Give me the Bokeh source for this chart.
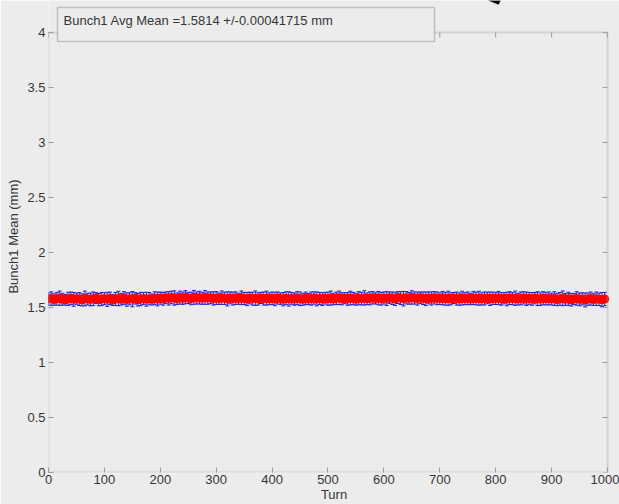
import math

from bokeh.plotting import figure
from bokeh.models import (Range1d, FixedTicker, ColumnDataSource,
                          BoxAnnotation, Label, PolyAnnotation)
from bokeh.embed import file_html
from bokeh.resources import INLINE

# Turn-by-turn bunch 1 centroid (mm), sampled every 5 turns
turns = list(range(0, 1000, 5))

bunch1_mean = [
    1.576, 1.581, 1.572, 1.579, 1.584, 1.575, 1.570, 1.578, 1.583, 1.574,
    1.580, 1.577, 1.569, 1.582, 1.576, 1.573, 1.579, 1.585, 1.571, 1.577,
    1.580, 1.574, 1.583, 1.568, 1.577, 1.581, 1.575, 1.586, 1.572, 1.579,
    1.576, 1.583, 1.570, 1.578, 1.582, 1.575, 1.580, 1.573, 1.584, 1.577,
    1.585, 1.579, 1.588, 1.583, 1.591, 1.586, 1.580, 1.590, 1.584, 1.593,
    1.587, 1.582, 1.592, 1.586, 1.589, 1.583, 1.591, 1.585, 1.588, 1.582,
    1.586, 1.580, 1.589, 1.583, 1.578, 1.587, 1.581, 1.585, 1.579, 1.588,
    1.582, 1.577, 1.586, 1.580, 1.584, 1.578, 1.587, 1.581, 1.585, 1.579,
    1.583, 1.577, 1.586, 1.580, 1.575, 1.584, 1.578, 1.582, 1.576, 1.585,
    1.579, 1.574, 1.583, 1.577, 1.581, 1.586, 1.578, 1.582, 1.576, 1.584,
    1.580, 1.585, 1.577, 1.583, 1.588, 1.579, 1.584, 1.578, 1.586, 1.581,
    1.575, 1.584, 1.580, 1.587, 1.579, 1.583, 1.588, 1.582, 1.585, 1.579,
    1.586, 1.581, 1.589, 1.584, 1.578, 1.590, 1.585, 1.580, 1.588, 1.583,
    1.591, 1.586, 1.581, 1.589, 1.584, 1.579, 1.587, 1.582, 1.588, 1.583,
    1.580, 1.585, 1.578, 1.584, 1.579, 1.586, 1.581, 1.576, 1.585, 1.580,
    1.583, 1.577, 1.586, 1.581, 1.584, 1.578, 1.582, 1.587, 1.579, 1.584,
    1.581, 1.586, 1.578, 1.583, 1.577, 1.585, 1.580, 1.584, 1.576, 1.582,
    1.587, 1.579, 1.583, 1.578, 1.585, 1.580, 1.576, 1.584, 1.579, 1.582,
    1.576, 1.581, 1.572, 1.578, 1.583, 1.574, 1.579, 1.570, 1.577, 1.582,
    1.573, 1.578, 1.568, 1.576, 1.581, 1.572, 1.579, 1.574, 1.571, 1.577,
]

# One-sigma spread of the centroid at each sampled turn (mm)
bunch1_err = [
    0.056, 0.061, 0.052, 0.058, 0.065, 0.054, 0.049, 0.060, 0.057, 0.063,
    0.051, 0.059, 0.055, 0.067, 0.053, 0.058, 0.062, 0.050, 0.056, 0.060,
    0.054, 0.064, 0.057, 0.051, 0.059, 0.066, 0.053, 0.058, 0.061, 0.055,
    0.069, 0.052, 0.057, 0.060, 0.054, 0.063, 0.056, 0.050, 0.059, 0.062,
    0.055, 0.058, 0.053, 0.061, 0.057, 0.065, 0.052, 0.059, 0.056, 0.060,
    0.051, 0.057, 0.063, 0.055, 0.058, 0.054, 0.062, 0.056, 0.053, 0.060,
    0.058, 0.052, 0.061, 0.056, 0.064, 0.054, 0.059, 0.057, 0.050, 0.062,
    0.055, 0.060, 0.053, 0.058, 0.066, 0.056, 0.051, 0.059, 0.063, 0.054,
    0.057, 0.061, 0.055, 0.052, 0.060, 0.058, 0.065, 0.053, 0.056, 0.059,
    0.062, 0.054, 0.057, 0.051, 0.060, 0.056, 0.063, 0.055, 0.058, 0.053,
    0.059, 0.064, 0.052, 0.057, 0.061, 0.055, 0.050, 0.058, 0.062, 0.056,
    0.054, 0.060, 0.057, 0.065, 0.053, 0.059, 0.056, 0.051, 0.061, 0.058,
    0.055, 0.063, 0.052, 0.057, 0.060, 0.054, 0.058, 0.066, 0.056, 0.053,
    0.061, 0.055, 0.059, 0.052, 0.057, 0.062, 0.054, 0.060, 0.056, 0.058,
    0.053, 0.061, 0.057, 0.064, 0.055, 0.050, 0.059, 0.056, 0.062, 0.054,
    0.058, 0.052, 0.060, 0.057, 0.063, 0.055, 0.059, 0.053, 0.061, 0.056,
    0.054, 0.060, 0.057, 0.051, 0.062, 0.058, 0.055, 0.065, 0.053, 0.059,
    0.056, 0.061, 0.054, 0.058, 0.052, 0.063, 0.057, 0.060, 0.055, 0.059,
    0.053, 0.062, 0.056, 0.058, 0.067, 0.054, 0.060, 0.057, 0.051, 0.061,
    0.058, 0.055, 0.063, 0.056, 0.059, 0.053, 0.061, 0.057, 0.065, 0.060,
]

x_ticks = [0, 100, 200, 300, 400, 500, 600, 700, 800, 900, 1000]
y_ticks = [0, 0.5, 1, 1.5, 2, 2.5, 3, 3.5, 4]
y_tick_labels = ["0", "0.5", "1", "1.5", "2", "2.5", "3", "3.5", "4"]
x_lim = (0, 1000)
y_lim = (0, 4)

avg_text = "Bunch1 Avg Mean =1.5814 +/-0.00041715 mm"

BG = "#ececec"
FRAME = "#9c9c9c"
TXT = "#363636"
FONT = "Liberation Sans"
BLUE = "#2222cc"
RED = "#ff0000"

src = ColumnDataSource(dict(
    turn=turns,
    mean=bunch1_mean,
    lower=[m - e for m, e in zip(bunch1_mean, bunch1_err)],
    upper=[m + e for m, e in zip(bunch1_mean, bunch1_err)],
))

# The drawing area reaches the top and right edges of the page so that the
# text box above the axes box is not clipped; the axes box itself is drawn
# as an outline around the x/y limits.
p = figure(width=619, height=504, output_backend="svg", toolbar_location=None,
           x_range=Range1d(x_lim[0], 1021.5), y_range=Range1d(y_lim[0], 4.2902),
           min_border_left=48, min_border_right=0,
           min_border_top=0, min_border_bottom=31)
p.background_fill_color = BG
p.border_fill_color = BG
p.grid.visible = False
p.outline_line_color = None

# error bars (blue) with short caps, then the mean points (red) on top
p.segment(x0="turn", y0="lower", x1="turn", y1="upper", source=src,
          line_color=BLUE, line_width=1)
p.scatter("turn", "lower", source=src, marker="dash", size=4,
          line_color=BLUE, line_width=1)
p.scatter("turn", "upper", source=src, marker="dash", size=4,
          line_color=BLUE, line_width=1)
p.scatter("turn", "mean", source=src, size=9, fill_color=RED,
          line_color=None)

# axes box
p.add_layout(BoxAnnotation(left=x_lim[0], right=x_lim[1],
                           bottom=y_lim[0], top=y_lim[1],
                           fill_alpha=0, line_color=FRAME, line_width=2,
                           level="overlay"))

for ax, ticks, lim in ((p.xaxis[0], x_ticks, x_lim), (p.yaxis[0], y_ticks, y_lim)):
    ax.ticker = FixedTicker(ticks=ticks)
    ax.bounds = lim
    ax.axis_line_color = None
    ax.major_tick_in = 5
    ax.major_tick_out = 0
    ax.major_tick_line_color = FRAME
    ax.major_tick_line_width = 1
    ax.minor_tick_line_color = None
    ax.major_label_text_font = FONT
    ax.major_label_text_font_size = "13px"
    ax.major_label_text_color = TXT
    ax.axis_label_text_font = FONT
    ax.axis_label_text_font_size = "13px"
    ax.axis_label_text_font_style = "normal"
    ax.axis_label_text_color = TXT

p.xaxis[0].axis_label = "Turn"
p.xaxis[0].major_label_standoff = 2
p.xaxis[0].axis_label_standoff = 0

p.yaxis[0].axis_label = "Bunch1 Mean (mm)"
p.yaxis[0].major_label_standoff = 3
p.yaxis[0].axis_label_standoff = 3
p.yaxis[0].major_label_overrides = {t: s for t, s in zip(y_ticks, y_tick_labels)}

# inward ticks on the top and right edges of the box
p.ray(x=x_ticks, y=[y_lim[1]] * len(x_ticks), length=5, length_units="screen",
      angle=-math.pi / 2, line_color=FRAME, line_width=1)
p.ray(x=[x_lim[1]] * len(y_ticks), y=y_ticks, length=5, length_units="screen",
      angle=math.pi, line_color=FRAME, line_width=1)

# text box holding the average (canvas pixels, origin at top left)
p.add_layout(BoxAnnotation(left=57, right=434, top=7, bottom=41,
                           left_units="canvas", right_units="canvas",
                           top_units="canvas", bottom_units="canvas",
                           fill_color=BG, fill_alpha=1,
                           line_color="#5a5a5a", line_width=1.5,
                           level="overlay"))
p.add_layout(Label(x=63, y=20, x_units="canvas", y_units="canvas",
                   text=avg_text, text_font=FONT,
                   text_font_size="13px", text_color=TXT,
                   text_baseline="middle", level="overlay"))

# tip of an arrow pointing in from above
p.add_layout(PolyAnnotation(xs=[488, 500, 498], ys=[0, 0, 4],
                            xs_units="canvas", ys_units="canvas",
                            fill_color="black", fill_alpha=1,
                            line_color="black", level="overlay"))

open("out.html", "w").write(file_html(p, INLINE))
